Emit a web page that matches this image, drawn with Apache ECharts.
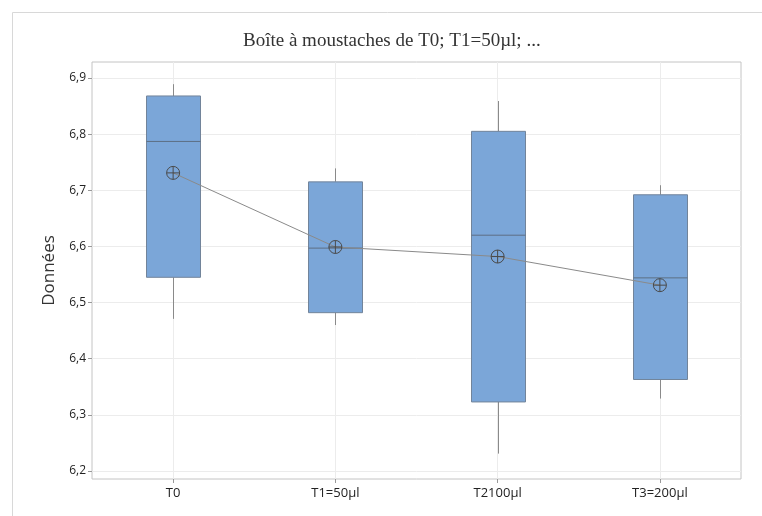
<!DOCTYPE html>
<html><head><meta charset="utf-8">
<script src="https://cdn.jsdelivr.net/npm/echarts@6/dist/echarts.min.js"></script>
<style>html,body{margin:0;padding:0;background:#fff}#c{width:762px;height:516px}</style>
</head><body><div id="c"></div>
<script>
const categories = ['T0', 'T1=50µl', 'T2100µl', 'T3=200µl'];
// [min, Q1, median, Q3, max]
const boxT0 = [6.471, 6.545, 6.787, 6.868, 6.889];
const boxT1 = [6.460, 6.482, 6.597, 6.715, 6.739];
const boxT2 = [6.231, 6.323, 6.620, 6.805, 6.859];
const boxT3 = [6.329, 6.363, 6.544, 6.692, 6.709];
const means = [6.731, 6.599, 6.582, 6.531];
const yTicks = [6.2, 6.3, 6.4, 6.5, 6.6, 6.7, 6.8, 6.9];

const boxes = [boxT0, boxT1, boxT2, boxT3];
const boxData = boxes.map((b, i) => [i].concat(b));

const chart = echarts.init(document.getElementById('c'));
const fmt = v => String(Math.round(v * 10) / 10).replace('.', ',');

function renderBox(params, api) {
  const x = api.value(0);
  const pMin = api.coord([x, api.value(1)]);
  const pQ1 = api.coord([x, api.value(2)]);
  const pMed = api.coord([x, api.value(3)]);
  const pQ3 = api.coord([x, api.value(4)]);
  const pMax = api.coord([x, api.value(5)]);
  const w = 54;
  const cx = Math.round(pMed[0]) + 0.5;
  const whisk = { stroke: '#8a8a8a', lineWidth: 1 };
  return {
    type: 'group',
    children: [
      { type: 'line', shape: { x1: cx, y1: pMax[1], x2: cx, y2: pQ3[1] }, style: whisk },
      { type: 'line', shape: { x1: cx, y1: pQ1[1], x2: cx, y2: pMin[1] }, style: whisk },
      { type: 'rect', shape: { x: cx - w / 2, y: pQ3[1], width: w, height: pQ1[1] - pQ3[1] },
        style: { fill: '#7ba6d8', stroke: '#72849a', lineWidth: 1 } },
      { type: 'line', shape: { x1: cx - w / 2, y1: pMed[1], x2: cx + w / 2, y2: pMed[1] },
        style: { stroke: '#5d6f84', lineWidth: 1 } }
    ]
  };
}

chart.setOption({
  animation: false,
  backgroundColor: '#fff',
  title: {
    text: 'Boîte à moustaches de T0; T1=50µl; ...',
    left: 238, top: 27,
    textStyle: { fontFamily: 'Liberation Serif', fontWeight: 'normal', fontSize: 19, color: '#333' }
  },
  graphic: [{
    type: 'rect', shape: { x: 12.5, y: 12.5, width: 900, height: 700 },
    style: { fill: 'none', stroke: '#d8d8d8', lineWidth: 1 }, z: -10
  }],
  grid: [
    { left: 92, right: 21, top: 78, bottom: 45 },
    { left: 92, right: 21, top: 62, bottom: 37, show: true, borderColor: '#c4c4c4', borderWidth: 1, backgroundColor: 'transparent' }
  ],
  xAxis: [
    { type: 'category', gridIndex: 0, data: categories, show: false },
    { type: 'category', gridIndex: 1, data: categories,
      axisLine: { show: false },
      axisTick: { show: true, alignWithLabel: true, length: 4, lineStyle: { color: '#999' } },
      axisLabel: { color: '#222', fontFamily: 'Open Sans', fontSize: 13, margin: 8 },
      splitLine: { show: true, alignWithLabel: true, lineStyle: { color: '#ececec' } } }
  ],
  yAxis: [
    { type: 'value', gridIndex: 0, min: 6.2, max: 6.9, interval: 0.1,
      axisLine: { show: false },
      axisTick: { show: true, length: 4, lineStyle: { color: '#999' } },
      axisLabel: { color: '#222', fontFamily: 'Open Sans', fontSize: 12, margin: 6, formatter: fmt },
      splitLine: { show: true, lineStyle: { color: '#ececec' } } },
    { type: 'value', gridIndex: 1, min: 0, max: 1,
      axisLine: { show: false }, axisTick: { show: false }, axisLabel: { show: false }, splitLine: { show: false },
      name: 'Données', nameLocation: 'middle', nameGap: 34,
      nameTextStyle: { color: '#333', fontFamily: 'Open Sans', fontSize: 17 } }
  ],
  series: [
    { type: 'custom', xAxisIndex: 0, yAxisIndex: 0, data: boxData, renderItem: renderBox,
      encode: { x: 0, y: [1, 2, 3, 4, 5] } },
    { type: 'line', xAxisIndex: 0, yAxisIndex: 0, data: means, z: 5,
      symbol: 'path://M10,0 A10,10 0 1,1 -10,0 A10,10 0 1,1 10,0 Z M0,-10 L0,10 M-10,0 L10,0',
      symbolSize: 13, symbolKeepAspect: true,
      lineStyle: { color: '#8a8a8a', width: 1 },
      itemStyle: { color: 'rgba(0,0,0,0)', borderColor: '#4a4a4a', borderWidth: 1 } }
  ]
});
</script></body></html>
